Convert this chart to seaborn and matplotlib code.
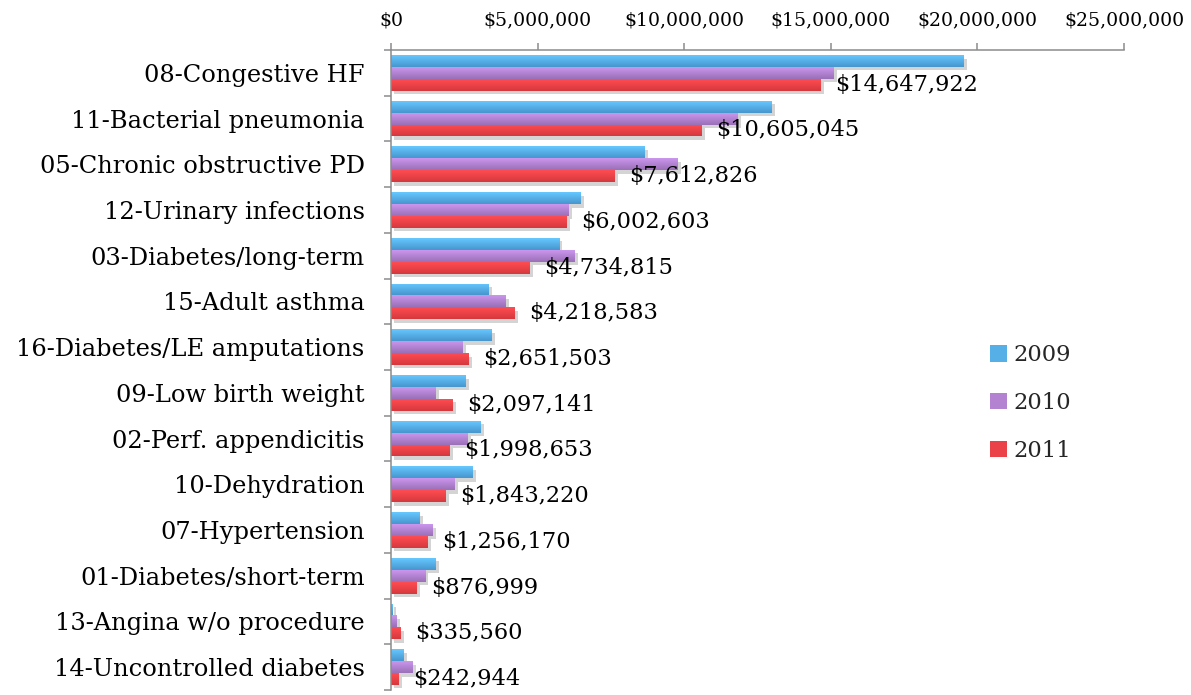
import matplotlib
matplotlib.use("Agg")
import matplotlib.pyplot as plt
import matplotlib.patheffects as pe
from matplotlib.colors import LinearSegmentedColormap
from matplotlib.patches import Patch
from matplotlib.ticker import FuncFormatter, FixedLocator
import seaborn as sns
import numpy as np
import pandas as pd

categories = [
    "08-Congestive HF",
    "11-Bacterial pneumonia",
    "05-Chronic obstructive PD",
    "12-Urinary infections",
    "03-Diabetes/long-term",
    "15-Adult asthma",
    "16-Diabetes/LE amputations",
    "09-Low birth weight",
    "02-Perf. appendicitis",
    "10-Dehydration",
    "07-Hypertension",
    "01-Diabetes/short-term",
    "13-Angina w/o procedure",
    "14-Uncontrolled diabetes",
]

years = ["2009", "2010", "2011"]

cost_2009 = [19530000, 12980000, 8660000, 6470000, 5730000, 3340000, 3440000,
             2530000, 3060000, 2790000, 960000, 1530000, 60000, 440000]
cost_2010 = [15090000, 11820000, 9760000, 6050000, 6270000, 3920000, 2450000,
             1520000, 2620000, 2180000, 1430000, 1160000, 200000, 720000]
cost_2011 = [14647922, 10605045, 7612826, 6002603, 4734815, 4218583, 2651503,
             2097141, 1998653, 1843220, 1256170, 876999, 335560, 242944]

x_ticks = [0, 5000000, 10000000, 15000000, 20000000, 25000000]

# top / bottom colours of the bar gradients
grad_colors = {
    "2009": ("#66C8FF", "#4796CE"),
    "2010": ("#CB96EE", "#9A70B6"),
    "2011": ("#FF4D52", "#D5383D"),
}

df = pd.DataFrame({
    "category": categories * 3,
    "year": [y for y in years for _ in categories],
    "cost": cost_2009 + cost_2010 + cost_2011,
})

sns.set_style("white")
plt.rcParams["font.family"] = ["DejaVu Serif", "Liberation Serif"]

fig = plt.figure(figsize=(11.91, 6.95), dpi=100)
ax = fig.add_axes([391 / 1191, 1 - 690 / 695, 733 / 1191, 640 / 695])

mid_colors = [
    tuple((np.array(matplotlib.colors.to_rgb(a)) + np.array(matplotlib.colors.to_rgb(b))) / 2)
    for a, b in (grad_colors[y] for y in years)
]

sns.barplot(
    data=df, y="category", x="cost", hue="year", order=categories,
    hue_order=years, palette=mid_colors, orient="h", width=0.78,
    ax=ax, legend=False, saturation=1,
)

grad = np.linspace(0, 1, 64).reshape(-1, 1)
for cont, year in zip(ax.containers, years):
    cmap = LinearSegmentedColormap.from_list("g" + year, grad_colors[year])
    for bar in cont:
        bar.set_edgecolor("none")
        bar.set_path_effects([
            pe.SimplePatchShadow(offset=(2.5, -2.5), shadow_rgbFace="k", alpha=0.17),
            pe.Normal(),
        ])
        x0, y0 = bar.get_x(), bar.get_y()
        w, h = bar.get_width(), bar.get_height()
        im = ax.imshow(grad, cmap=cmap, extent=(x0, x0 + w, y0 + h, y0),
                       origin="upper", aspect="auto", zorder=bar.get_zorder() + 0.1,
                       interpolation="bilinear")
        im.set_clip_path(bar)

labels_2011 = [f"${v:,.0f}" for v in cost_2011]
ax.bar_label(ax.containers[2], labels=labels_2011, padding=10.5,
             fontsize=16.2, color="black", zorder=5)

ax.set_xlim(0, 25000000)
ax.set_ylim(len(categories) - 0.5, -0.5)
ax.xaxis.tick_top()
ax.xaxis.set_major_locator(FixedLocator(x_ticks))
ax.xaxis.set_major_formatter(FuncFormatter(lambda v, p: f"${v:,.0f}"))
ax.tick_params(axis="x", which="major", direction="out", length=5, width=1.1,
               color="#8C8C8C", pad=10, labelsize=13.6, labelcolor="black")

ax.set_yticks(range(len(categories)))
ax.set_yticklabels(categories)
ax.yaxis.set_minor_locator(FixedLocator(np.arange(-0.5, len(categories), 1)))
ax.tick_params(axis="y", which="major", length=0, pad=19, labelsize=17.4,
               labelcolor="black")
ax.tick_params(axis="y", which="minor", direction="out", length=5, width=1.1,
               color="#8C8C8C", left=True)

ax.set_xlabel("")
ax.set_ylabel("")
for side in ["right", "bottom"]:
    ax.spines[side].set_visible(False)
for side in ["top", "left"]:
    ax.spines[side].set_color("#8C8C8C")
    ax.spines[side].set_linewidth(1.1)

handles = [Patch(facecolor=c, edgecolor="none") for c in mid_colors]
fig.legend(handles, years, loc="center left",
           bbox_to_anchor=(970 / 1191, 1 - 403 / 695), frameon=False,
           fontsize=16.3, handlelength=0.75, handleheight=0.75,
           handletextpad=0.25, labelspacing=1.14)

fig.savefig("out.png", dpi=100)
plt.close(fig)
